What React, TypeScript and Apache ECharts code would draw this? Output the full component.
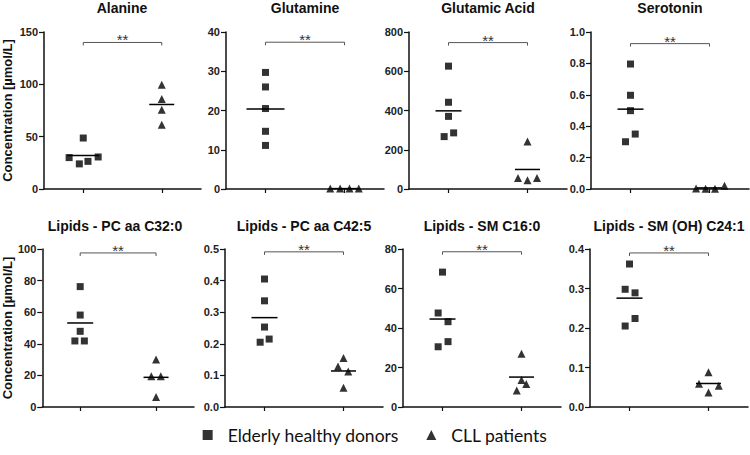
import React, { useEffect, useRef } from "react";
import * as echarts from "echarts";

const titles = [
  "Alanine",
  "Glutamine",
  "Glutamic Acid",
  "Serotonin",
  "Lipids - PC aa C32:0",
  "Lipids - PC aa C42:5",
  "Lipids - SM C16:0",
  "Lipids - SM (OH) C24:1",
];
const yMax = [150, 40, 800, 1.0, 100, 0.5, 80, 0.4];
const yStep = [50, 10, 200, 0.2, 20, 0.1, 20, 0.1];
const yDecimals = [0, 0, 0, 1, 0, 1, 0, 1];

const healthyValues = [
  [48.7, 30, 24, 26.4, 30.6],
  [29.7, 26, 20.5, 14.7, 11.1],
  [626, 442, 370, 267, 286],
  [0.796, 0.597, 0.499, 0.35, 0.301],
  [76.2, 58.2, 47.9, 41.8, 41.8],
  [0.405, 0.336, 0.253, 0.205, 0.215],
  [68.3, 47.6, 43.2, 33.1, 30.5],
  [0.362, 0.298, 0.289, 0.224, 0.205],
];
const healthyJitter = [
  [0.0, -0.18, -0.05, 0.06, 0.19],
  [0, 0, 0, 0, 0],
  [0, 0, 0, -0.055, 0.065],
  [0, 0, 0, 0.06, -0.063],
  [0, 0, 0, -0.07, 0.055],
  [0, 0, 0, -0.055, 0.059],
  [0, -0.055, 0.07, 0.07, -0.055],
  [0, -0.055, 0.07, 0.07, -0.055],
];
const cllValues = [
  [99.7, 86, 75.8, 61.5],
  [0.1, 0.1, 0.1, 0.1],
  [242, 56, 44, 56],
  [0.003, 0.002, 0.002, 0.021],
  [30, 19.4, 19.4, 6.3],
  [0.155, 0.128, 0.112, 0.061],
  [26.9, 13.7, 11.7, 8.3],
  [0.088, 0.059, 0.054, 0.037],
];
const cllJitter = [
  [0, 0, 0, 0],
  [-0.18, -0.055, 0.063, 0.18],
  [0, -0.12, 0, 0.12],
  [-0.17, -0.05, 0.07, 0.19],
  [0, -0.063, 0.063, 0],
  [0, -0.07, 0.06, 0],
  [0, 0, 0.06, -0.06],
  [0, -0.12, 0.13, 0],
];
const bracketLevel = [140, 37.4, 746, 0.926, 97.5, 0.491, 78.6, 0.39];
const groupNames = ["Elderly healthy donors", "CLL patients"];
const yAxisName = "Concentration [µmol/L]";

// layout (styles)
const gridLefts = [43, 226, 409, 591, 36, 225, 403, 590];
const rowTop = [32, 249];
const rowHeight = [157, 158];
const gridWidth = 158;
const meanHalf = [16, 19, 13, 13, 13, 13, 13, 13];

const AXIS_FONT = "Arial";

const mean = (a: number[]) => a.reduce((s, v) => s + v, 0) / a.length;

export default function App() {
  const ref = useRef<HTMLDivElement>(null);
  useEffect(() => {
    if (!ref.current) return;
    const chart = echarts.init(ref.current, undefined, { renderer: "svg" });
    const grids: any[] = [];
    const xAxes: any[] = [];
    const yAxes: any[] = [];
    const series: any[] = [];
    const titleArr: any[] = [];
    titles.forEach((t, i) => {
      const row = i < 4 ? 0 : 1;
      grids.push({
        left: gridLefts[i],
        top: rowTop[row],
        width: gridWidth,
        height: rowHeight[row],
        containLabel: false,
      });
      titleArr.push({
        text: t,
        left: gridLefts[i] + gridWidth / 2,
        top: row === 0 ? 1 : 219,
        padding: 0,
        textAlign: "center",
        textStyle: {
          fontFamily: AXIS_FONT,
          fontSize: 14,
          fontWeight: "bold",
          color: "#111",
        },
      });
      xAxes.push({
        gridIndex: i,
        type: "value",
        min: 0.5,
        max: 2.5,
        splitLine: { show: false },
        axisLine: { show: true, lineStyle: { color: "#111", width: 1.5 } },
        axisTick: {
          show: true,
          customValues: [1, 2],
          length: 4,
          lineStyle: { color: "#111", width: 1.2 },
        },
        axisLabel: { show: false },
      });
      const showName = i === 0 || i === 4;
      yAxes.push({
        gridIndex: i,
        type: "value",
        min: 0,
        max: yMax[i],
        interval: yStep[i],
        splitLine: { show: false },
        axisLine: { show: true, lineStyle: { color: "#111", width: 1.5 } },
        axisTick: { show: true, length: 5, lineStyle: { color: "#111", width: 1.2 } },
        axisLabel: {
          margin: 6,
          fontFamily: AXIS_FONT,
          fontSize: 11,
          fontWeight: "bold",
          color: "#222",
          formatter: (v: number) => v.toFixed(yDecimals[i]),
        },
        name: showName ? yAxisName : "",
        nameLocation: "middle",
        nameGap: i === 0 ? 30 : 23,
        nameTextStyle: {
          fontFamily: AXIS_FONT,
          fontSize: 13,
          fontWeight: "bold",
          color: "#111",
        },
      });
      series.push({
        type: "scatter",
        name: groupNames[0],
        xAxisIndex: i,
        yAxisIndex: i,
        symbol: "rect",
        symbolSize: 7,
        clip: false,
        itemStyle: { color: "#000" },
        data: healthyValues[i].map((v, j) => [1 + healthyJitter[i][j], v]),
      });
      series.push({
        type: "scatter",
        name: groupNames[1],
        xAxisIndex: i,
        yAxisIndex: i,
        symbol: "triangle",
        symbolSize: 8,
        clip: false,
        itemStyle: { color: "#000" },
        data: cllValues[i].map((v, j) => [2 + cllJitter[i][j], v]),
      });
      const hw = meanHalf[i];
      series.push({
        type: "custom",
        xAxisIndex: i,
        yAxisIndex: i,
        silent: true,
        clip: false,
        data: [
          [1, mean(healthyValues[i]), hw],
          [2, mean(cllValues[i]), 12.5],
        ],
        renderItem: (_p: any, api: any) => {
          const c = api.coord([api.value(0), api.value(1)]);
          const w = api.value(2);
          return {
            type: "line",
            shape: { x1: c[0] - w, y1: c[1], x2: c[0] + w, y2: c[1] },
            style: { stroke: "#000", lineWidth: 1.5 },
          };
        },
      });
      series.push({
        type: "custom",
        xAxisIndex: i,
        yAxisIndex: i,
        silent: true,
        clip: false,
        data: [[1, 2, bracketLevel[i]]],
        renderItem: (_p: any, api: any) => {
          const a = api.coord([api.value(0), api.value(2)]);
          const b = api.coord([api.value(1), api.value(2)]);
          return {
            type: "group",
            children: [
              {
                type: "polyline",
                shape: {
                  points: [
                    [a[0], a[1] + 3],
                    [a[0], a[1]],
                    [b[0], b[1]],
                    [b[0], b[1] + 3],
                  ],
                },
                style: { stroke: "#555", lineWidth: 1, fill: "none" },
              },
              {
                type: "text",
                style: {
                  text: "**",
                  x: (a[0] + b[0]) / 2,
                  y: a[1] + 5,
                  align: "center",
                  verticalAlign: "bottom",
                  font: "15px Arial",
                  fill: "#333",
                },
              },
            ],
          };
        },
      });
    });

    chart.setOption({
      animation: false,
      backgroundColor: "#fff",
      title: titleArr,
      grid: grids,
      xAxis: xAxes,
      yAxis: yAxes,
      legend: {
        bottom: 6,
        left: "center",
        itemWidth: 10,
        itemHeight: 10,
        itemGap: 27,
        selectedMode: false,
        data: [
          { name: groupNames[0], icon: "rect" },
          { name: groupNames[1], icon: "triangle" },
        ],
        textStyle: {
          fontFamily: "Lato",
          fontSize: 17.5,
          color: "#111",
          padding: [0, 0, 0, 10],
        },
        itemStyle: { color: "#000" },
      },
      series,
    });
    return () => chart.dispose();
  }, []);
  return (
    <div
      ref={ref}
      style={{ position: "fixed", left: 0, top: 0, width: 750, height: 455 }}
    />
  );
}
